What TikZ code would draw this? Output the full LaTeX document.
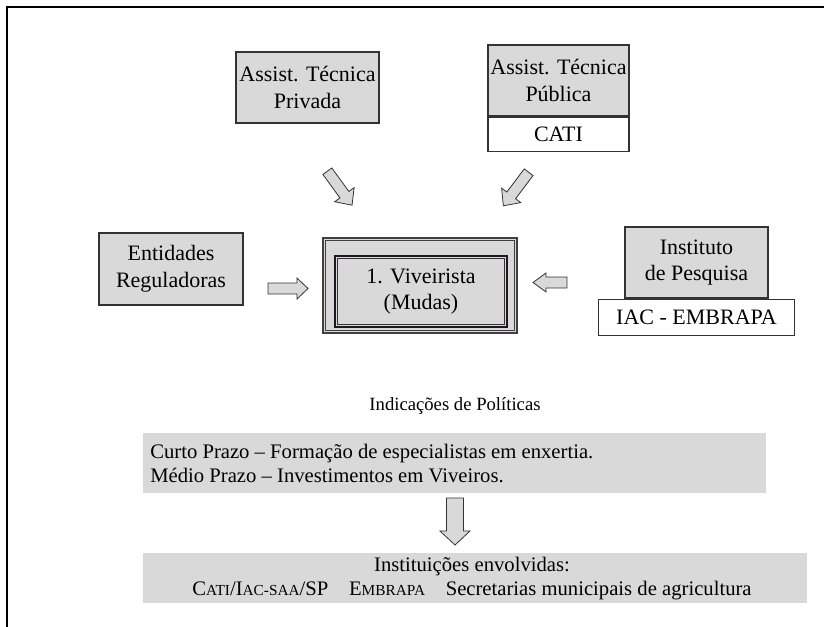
\documentclass[tikz,border=0pt]{standalone}
\usepackage{fontspec}
\setmainfont{Liberation Serif}
% capitals set smaller, for acronyms in small capitals
\newcommand{\smallcapsof}[1]{{\fontsize{11.5}{13}\selectfont #1}}
% block arrow: centre x, centre y, angle, length, shaft width, head width, head length
\newcommand{\blockarrow}[7]{%
  \draw[arrowbody,shift={(#1,#2)},rotate=#3]
    ({-#4/2},{-#5/2}) -- ({#4/2-#7},{-#5/2}) -- ({#4/2-#7},{-#6/2}) -- ({#4/2},0)
    -- ({#4/2-#7},{#6/2}) -- ({#4/2-#7},{#5/2}) -- ({-#4/2},{#5/2}) -- cycle;}
\begin{document}
\def\u{0.75pt}
\begin{tikzpicture}[x=0.75pt,y=-0.75pt,
  boxfont/.style={font=\fontsize{16.5}{20}\selectfont},
  graybox/.style={draw=black!80,line width=0.8pt,fill=black!15,inner sep=0pt,align=center,boxfont},
  whitebox/.style={draw=black!80,line width=0.8pt,fill=white,inner sep=0pt,align=center,boxfont},
  band/.style={fill=black!15,inner sep=0pt},
  arrowbody/.style={draw=black!80,line width=0.6pt,fill=black!15,line join=miter},
]
\useasboundingbox (0,0) rectangle (824,627);
% page frame
\draw[line width=1.6pt] (7,627) -- (7,7) -- (824,7);

% technical assistance
\node[graybox,minimum width=143*\u,minimum height=71*\u] (priv) at (307.5,87.5) {Assist. Técnica\\Privada};
\node[graybox,minimum width=141*\u,minimum height=71*\u] (pub) at (558.5,80.5) {Assist. Técnica\\Pública};
\node[whitebox,minimum width=141*\u,minimum height=34*\u,anchor=north] (cati) at (pub.south) {CATI};

% regulators and research
\node[graybox,minimum width=144*\u,minimum height=72*\u] (reg) at (171,269) {Entidades\\Reguladoras};
\node[graybox,minimum width=143*\u,minimum height=71*\u] (inst) at (696.5,262.5) {Instituto\\de Pesquisa};
\node[whitebox,minimum width=196*\u,minimum height=36*\u,anchor=north] (iac) at (inst.south) {IAC - EMBRAPA};

% nursery (centre): double outer frame, heavy inner frame
\node[draw=black!75,line width=0.8pt,fill=black!15,minimum width=194*\u,minimum height=95*\u,inner sep=0pt] (vivout) at (420,285.5) {};
\draw[black!75,line width=0.6pt] ([shift={(3,3)}]vivout.north west) rectangle ([shift={(-3,-3)}]vivout.south east);
\node[draw={rgb,255:red,35;green,20;blue,40},line width=1.6pt,fill=black!15,minimum width=172*\u,minimum height=71*\u,inner sep=0pt,align=center,boxfont] (viv) at (421,291.5) {1. Viveirista\\(Mudas)};
\draw[black!80,line width=0.6pt] ([shift={(3.5,3.5)}]viv.north west) rectangle ([shift={(-3.5,-3.5)}]viv.south east);

% influence arrows towards the nursery
\blockarrow{339.7}{188.2}{-54}{42}{11}{24}{13}
\blockarrow{516}{189}{-127}{42}{11}{24}{13}
\blockarrow{288}{288.5}{0}{40}{11}{21}{11}
\blockarrow{550}{282.5}{180}{34}{11}{19}{13}

% policy indications
\node[font=\fontsize{14}{16}\selectfont] (ind) at (455,406) {Indicações de Políticas};
\node[band,minimum width=623*\u,minimum height=60*\u] (prazo) at (454.5,463) {};
\node[anchor=west,align=left,inner sep=0pt,font=\fontsize{15.5}{18}\selectfont] (prazotxt) at (150,463.5)
  {Curto Prazo – Formação de especialistas em enxertia.\\Médio Prazo – Investimentos em Viveiros.};
\blockarrow{455}{521.5}{-90}{47}{17}{30}{14}
\node[band,minimum width=664*\u,minimum height=50*\u] (inst2) at (475,578) {};
\node[align=center,inner sep=0pt,font=\fontsize{15.5}{18}\selectfont] (insttxt) at (472,578.5)
  {Instituições envolvidas:\\C\smallcapsof{ATI}/I\smallcapsof{AC-SAA}/SP\quad E\smallcapsof{MBRAPA}\quad Secretarias municipais de agricultura};
\end{tikzpicture}
\end{document}
